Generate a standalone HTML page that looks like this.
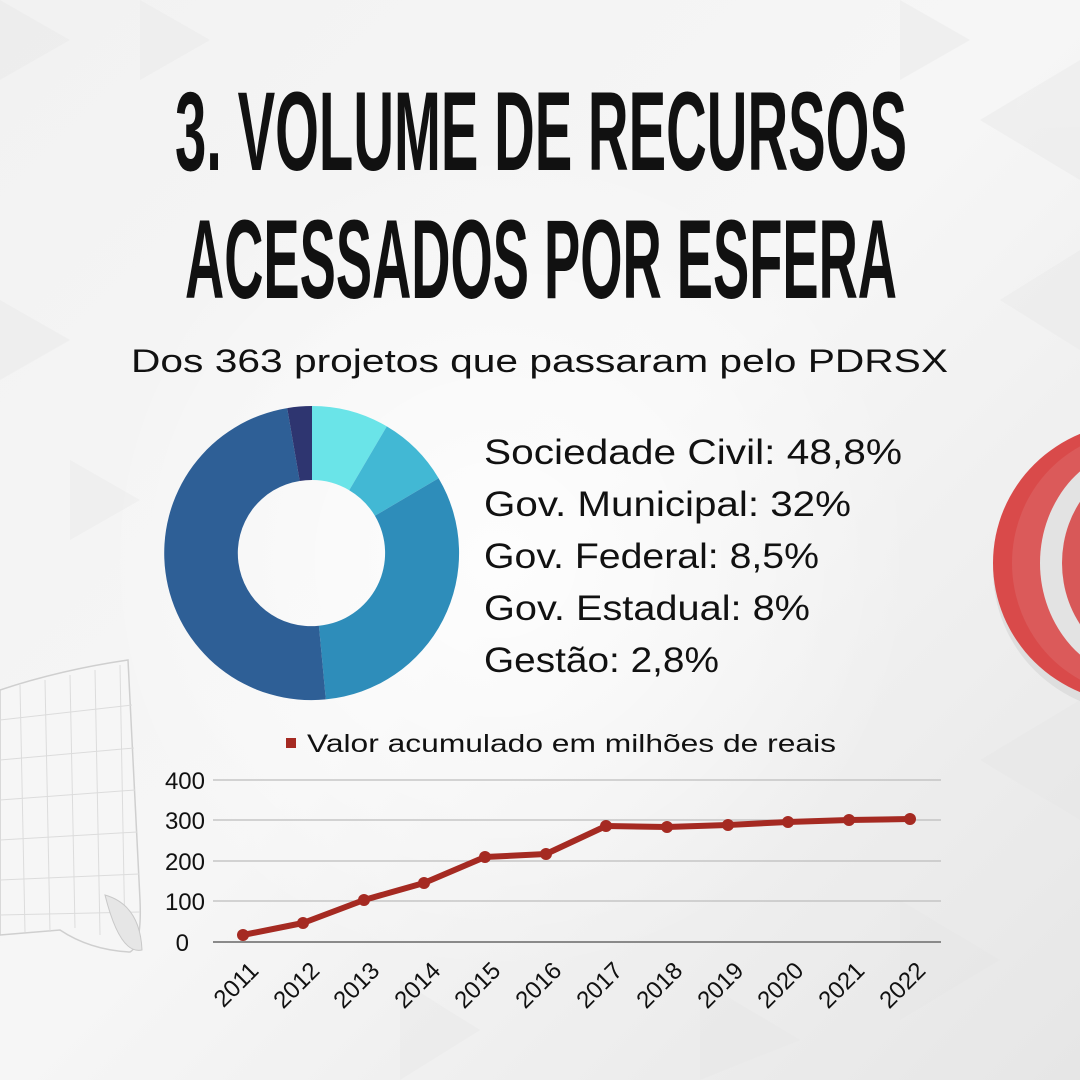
<!DOCTYPE html>
<html><head><meta charset="utf-8"><style>
html,body{margin:0;padding:0;width:1080px;height:1080px;overflow:hidden;background:#eeeeee}
svg{display:block}
</style></head><body>
<svg width="1080" height="1080" viewBox="0 0 1080 1080" xmlns="http://www.w3.org/2000/svg">
<defs>
<linearGradient id="bg" x1="0" y1="0" x2="1" y2="1">
<stop offset="0" stop-color="#f2f2f2"/><stop offset="0.5" stop-color="#f6f6f6"/><stop offset="1" stop-color="#e6e6e6"/>
</linearGradient>
<radialGradient id="glow" cx="0.45" cy="0.5" r="0.5">
<stop offset="0" stop-color="#ffffff" stop-opacity="0.8"/><stop offset="1" stop-color="#ffffff" stop-opacity="0"/>
</radialGradient>
</defs>
<rect width="1080" height="1080" fill="url(#bg)"/>
<g fill="#e4e4e4" opacity="0.35">
<polygon points="0,0 70,40 0,80"/><polygon points="140,0 210,40 140,80"/><polygon points="900,0 970,40 900,80"/>
<polygon points="980,120 1080,60 1080,180"/><polygon points="0,300 70,340 0,380"/><polygon points="70,460 140,500 70,540"/>
<polygon points="980,760 1080,700 1080,820"/><polygon points="900,900 1000,960 900,1020"/><polygon points="700,980 800,1040 700,1080"/>
<polygon points="400,980 480,1030 400,1080"/><polygon points="1000,300 1080,250 1080,350"/>
</g>
<ellipse cx="540" cy="560" rx="420" ry="420" fill="url(#glow)"/>

<!-- paper decoration -->
<path d="M0,690 Q60,670 128,660 L140,900 Q142,945 130,952 Q90,950 60,930 L0,935 Z" fill="#f6f6f6" stroke="#cfcfcf" stroke-width="1.5"/>
<g stroke="#dcdcdc" stroke-width="1">
<line x1="20" y1="685" x2="25" y2="932"/><line x1="45" y1="680" x2="50" y2="932"/><line x1="70" y1="675" x2="75" y2="928"/><line x1="95" y1="670" x2="100" y2="935"/><line x1="120" y1="665" x2="125" y2="940"/>
<line x1="0" y1="720" x2="132" y2="705"/><line x1="0" y1="760" x2="134" y2="748"/><line x1="0" y1="800" x2="135" y2="790"/><line x1="0" y1="840" x2="137" y2="832"/><line x1="0" y1="880" x2="139" y2="874"/><line x1="0" y1="915" x2="140" y2="912"/>
</g>
<path d="M105,895 Q140,905 142,950 Q120,955 105,895 Z" fill="#e6e6e6" stroke="#c8c8c8"/>

<!-- target decoration -->
<ellipse cx="1138" cy="570" rx="145" ry="143" fill="#cfcfcf" opacity="0.5"/>
<ellipse cx="1135" cy="563" rx="142" ry="140" fill="#d94a4a"/>
<ellipse cx="1140" cy="563" rx="128" ry="132" fill="#db5a5a"/>
<ellipse cx="1148" cy="563" rx="108" ry="118" fill="#e3e3e3"/>
<ellipse cx="1152" cy="563" rx="90" ry="102" fill="#d85858"/>

<!-- title -->
<g font-family="'Liberation Sans Narrow','Liberation Sans',sans-serif" font-weight="bold" fill="#111">
<text x="175" y="170" font-size="112" textLength="732" lengthAdjust="spacingAndGlyphs">3. VOLUME DE RECURSOS</text>
<text x="185" y="298" font-size="112" textLength="712" lengthAdjust="spacingAndGlyphs">ACESSADOS POR ESFERA</text>
</g>
<g font-family="'Liberation Sans',sans-serif" fill="#111">
<text x="131" y="372" font-size="32" textLength="817" lengthAdjust="spacingAndGlyphs">Dos 363 projetos que passaram pelo PDRSX</text>
<text x="484" y="464" font-size="35" textLength="418" lengthAdjust="spacingAndGlyphs">Sociedade Civil: 48,8%</text>
<text x="484" y="516" font-size="35" textLength="367" lengthAdjust="spacingAndGlyphs">Gov. Municipal: 32%</text>
<text x="484" y="568" font-size="35" textLength="335" lengthAdjust="spacingAndGlyphs">Gov. Federal: 8,5%</text>
<text x="484" y="620" font-size="35" textLength="326" lengthAdjust="spacingAndGlyphs">Gov. Estadual: 8%</text>
<text x="484" y="672" font-size="35" textLength="235" lengthAdjust="spacingAndGlyphs">Gestão: 2,8%</text>
</g>

<!-- donut -->
<path d="M312,406 A147,147 0 0 1 386.8,426.4 L349.2,490.2 A73,73 0 0 0 312,480 Z" fill="#6ae4e8"/>
<path d="M386.8,426.4 A147,147 0 0 1 438.6,478.2 L374.9,515.8 A73,73 0 0 0 349.2,490.2 Z" fill="#42b8d4"/>
<path d="M438.6,478.2 A147,147 0 0 1 325.8,699.4 L318.9,625.7 A73,73 0 0 0 374.9,515.8 Z" fill="#2e8dba"/>
<path d="M325.8,699.4 A147,147 0 0 1 287.2,408.1 L299.7,481 A73,73 0 0 0 318.9,625.7 Z" fill="#2e5f96"/>
<path d="M287.2,408.1 A147,147 0 0 1 312,406 L312,480 A73,73 0 0 0 299.7,481 Z" fill="#2e3570"/>

<!-- line chart -->
<rect x="286" y="738" width="10" height="10" fill="#a52a22"/>
<text x="307" y="752" font-family="'Liberation Sans',sans-serif" font-size="25" fill="#111" textLength="529" lengthAdjust="spacingAndGlyphs">Valor acumulado em milhões de reais</text>
<g stroke="#bdbdbd" stroke-width="1.2">
<line x1="213" y1="780" x2="941" y2="780"/><line x1="213" y1="820" x2="941" y2="820"/><line x1="213" y1="861" x2="941" y2="861"/><line x1="213" y1="901" x2="941" y2="901"/>
</g>
<line x1="213" y1="942" x2="941" y2="942" stroke="#8a8a8a" stroke-width="2"/>
<g font-family="'Liberation Sans',sans-serif" font-size="24" fill="#111" text-anchor="end">
<text x="205" y="789">400</text><text x="205" y="829">300</text><text x="205" y="870">200</text><text x="205" y="910">100</text><text x="189" y="951">0</text>
</g>
<polyline fill="none" stroke="#a52a22" stroke-width="6" stroke-linejoin="round" points="243,935 303,923 364,900 424,883 485,857 546,854 606,826 667,827 728,825 788,822 849,820 910,819"/>
<g fill="#a52a22">
<circle cx="243" cy="935" r="6"/><circle cx="303" cy="923" r="6"/><circle cx="364" cy="900" r="6"/><circle cx="424" cy="883" r="6"/><circle cx="485" cy="857" r="6"/><circle cx="546" cy="854" r="6"/><circle cx="606" cy="826" r="6"/><circle cx="667" cy="827" r="6"/><circle cx="728" cy="825" r="6"/><circle cx="788" cy="822" r="6"/><circle cx="849" cy="820" r="6"/><circle cx="910" cy="819" r="6"/>
</g>
<g font-family="'Liberation Sans',sans-serif" font-size="24" fill="#111" text-anchor="end">
<text transform="translate(260,972) rotate(-45)">2011</text>
<text transform="translate(321,972) rotate(-45)">2012</text>
<text transform="translate(381,972) rotate(-45)">2013</text>
<text transform="translate(442,972) rotate(-45)">2014</text>
<text transform="translate(502,972) rotate(-45)">2015</text>
<text transform="translate(563,972) rotate(-45)">2016</text>
<text transform="translate(624,972) rotate(-45)">2017</text>
<text transform="translate(684,972) rotate(-45)">2018</text>
<text transform="translate(745,972) rotate(-45)">2019</text>
<text transform="translate(805,972) rotate(-45)">2020</text>
<text transform="translate(866,972) rotate(-45)">2021</text>
<text transform="translate(927,972) rotate(-45)">2022</text>
</g>
</svg>
</body></html>
